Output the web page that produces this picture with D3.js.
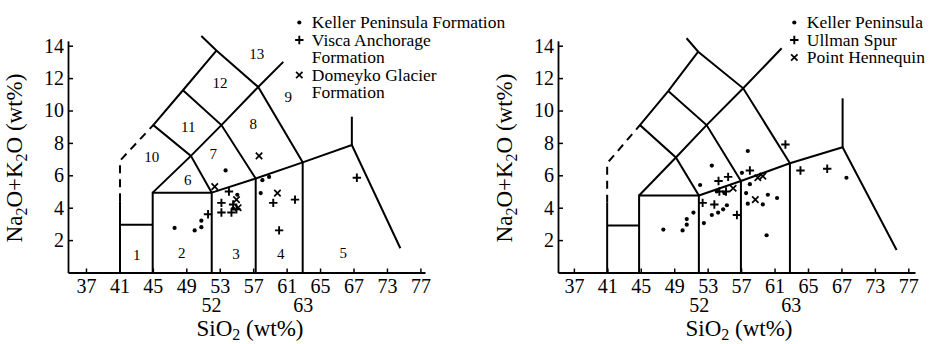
<!DOCTYPE html>
<html><head><meta charset="utf-8">
<script src="https://cdn.jsdelivr.net/npm/d3@7"></script>
<style>
body{margin:0;background:#fff}
svg{display:block}
text{font-family:"Liberation Serif","Times New Roman",serif;fill:#000}
</style>
</head><body>
<svg id="c" width="929" height="344"></svg>
<script>
// ---------- data ----------
const xTicks = [37,41,45,49,53,57,61,65,69,73,77];
const xTickLabels = ["37","41","45","49","53","57","61","65","67","73","77"];
const xExtraTicks = [52,63];
const yTicks = [2,4,6,8,10,12,14];

// left panel samples
const kellerFm = [[53.7,6.3],[47.6,2.75],[50.0,2.6],[50.8,2.8],[50.8,3.2],[55.1,4.8],[58.1,5.7],[58.9,5.9],[57.9,4.9],[54.6,3.95]];
const viscaAnchorage = [[51.6,3.6],[54.1,5.0],[53.2,4.3],[53.2,3.7],[54.4,3.7],[55.0,3.9],[54.6,4.2],[59.4,4.3],[62.0,4.5],[60.1,2.6],[69.4,5.85]];
const domeykoGlacier = [[57.7,7.2],[52.4,5.3],[59.9,4.9],[55.0,4.5],[55.2,4.0]];

// right panel samples
const kellerPeninsula = [[57.8,7.5],[53.5,6.6],[52.1,5.4],[57.1,6.15],[58.05,5.45],[57.6,4.9],[57.8,4.25],[59.6,4.2],[60.2,4.8],[61.3,4.6],[60.05,2.3],[50.5,3.3],[50.5,2.95],[50.0,2.6],[47.7,2.65],[51.3,3.7],[52.55,3.05],[53.5,3.55],[54.25,3.7],[54.85,3.9],[55.3,4.15],[54.1,5.0],[55.0,4.9],[69.6,5.85]];
const ullmanSpur = [[62.3,7.9],[58.05,6.3],[54.3,5.65],[55.45,5.9],[54.4,5.0],[55.2,5.0],[52.4,4.3],[53.8,4.2],[56.5,3.55],[64.1,6.3],[67.3,6.4]];
const pointHennequin = [[56.05,5.2],[58.7,4.5],[59.0,5.85],[59.6,5.95]];

// TAS field boundaries (SiO2, Na2O+K2O) as drawn in each panel
const leftBoundaries = [
  [[41.07,0],[41.07,4.4]],
  [[41.07,2.95],[44.98,2.95]],
  [[44.98,0],[44.98,4.93],[52.04,4.93],[52.04,0]],
  [[52.04,4.93],[57.3,5.8],[62.92,6.8],[68.8,7.87],[74.6,1.5]],
  [[57.3,0],[57.3,5.8]],
  [[62.92,0],[62.92,6.8]],
  [[68.8,7.87],[68.8,9.62]],
  [[44.98,4.93],[49.55,7.2],[53.2,9.1],[57.6,11.45],[60.6,13.0]],
  [[52.04,4.93],[49.55,7.2],[45.05,9.1],[48.6,11.25],[52.6,13.7]],
  [[57.3,5.8],[53.2,9.1],[48.6,11.25]],
  [[62.92,6.8],[57.6,11.45],[52.6,13.7],[50.8,14.6]]
];
const leftDashed = [[41.07,4.4],[41.07,6.9],[45.05,9.1]];

const rightBoundaries = [
  [[40.98,0],[40.98,4.3]],
  [[40.98,2.9],[44.8,2.9]],
  [[44.8,0],[44.8,4.75],[51.95,4.75],[51.95,0]],
  [[51.95,4.75],[56.98,5.65],[62.84,6.74],[69.14,7.73],[75.6,1.39]],
  [[56.98,0],[56.98,5.65]],
  [[62.84,0],[62.84,6.74]],
  [[69.14,7.73],[69.14,10.75]],
  [[44.8,4.75],[49.2,7.1],[52.87,9.1],[57.25,11.37],[61.85,13.84]],
  [[51.95,4.75],[49.2,7.1],[44.9,9.1],[48.28,11.2],[51.87,13.63]],
  [[56.98,5.65],[52.87,9.1],[48.28,11.2]],
  [[62.84,6.74],[57.25,11.37],[51.87,13.63],[50.48,14.46]]
];
const rightDashed = [[40.98,4.3],[40.98,6.74],[44.9,9.1]];

// field numbers (left panel)
const fieldNames = ["1","2","3","4","5","6","7","8","9","10","11","12","13"];
const fieldPos = [[43.06,1.1],[48.45,1.2],[54.94,1.15],[60.3,1.15],[67.77,1.2],[49.17,5.72],[52.23,7.36],[57.0,9.18],[61.2,10.86],[44.86,7.16],[49.24,9.0],[53.03,11.7],[57.42,13.5]];

const leftLegend = [["Keller Peninsula Formation"],["Visca Anchorage","Formation"],["Domeyko Glacier","Formation"]];
const rightLegend = [["Keller Peninsula"],["Ullman Spur"],["Point Hennequin"]];

// ---------- drawing ----------
const svg = d3.select("#c");
const FONT = '"Liberation Serif","Times New Roman",serif';

function symPath(type, cx, cy){
  if(type==="plus"){ const s=4.2; return `M${cx-s},${cy}H${cx+s}M${cx},${cy-s}V${cy+s}`; }
  const s=3.2; return `M${cx-s},${cy-s}L${cx+s},${cy+s}M${cx-s},${cy+s}L${cx+s},${cy-s}`;
}
function drawSymbol(g, type, cx, cy){
  if(type==="dot"){
    g.append("circle").attr("cx",cx).attr("cy",cy).attr("r",2.1).attr("fill","#000");
  } else {
    g.append("path").attr("d",symPath(type,cx,cy)).attr("stroke","#000")
      .attr("stroke-width",type==="plus"?1.9:1.7).attr("fill","none");
  }
}

function panel(cfg){
  const x = d3.scaleLinear().domain(cfg.xDomain).range(cfg.xRange);
  const y = d3.scaleLinear().domain([0,14.3]).range([272.5, 272.5-14.3*16.2]);
  const g = svg.append("g");
  const line = d3.line().x(d=>x(d[0])).y(d=>y(d[1]));

  // boundaries
  g.selectAll(null).data(cfg.bounds).join("path")
    .attr("d",line).attr("fill","none").attr("stroke","#000")
    .attr("stroke-width",2).attr("stroke-linejoin","miter");
  g.append("path").attr("d",line(cfg.dashed)).attr("fill","none")
    .attr("stroke","#000").attr("stroke-width",2).attr("stroke-dasharray","8,6");

  // axes
  const xa = g.append("g").attr("transform",`translate(0,${y(0)})`)
    .call(d3.axisBottom(x).tickValues(xTicks).tickFormat((d,i)=>xTickLabels[i])
      .tickSizeInner(-4).tickSizeOuter(0).tickPadding(6));
  const ya = g.append("g").attr("transform",`translate(${x(cfg.xDomain[0])},0)`)
    .call(d3.axisLeft(y).tickValues(yTicks).tickSizeInner(-5).tickSizeOuter(0).tickPadding(4));
  [xa,ya].forEach(a=>{
    a.attr("font-family",FONT).attr("font-size",20);
    a.select(".domain").attr("stroke-width",1.8);
    a.selectAll(".tick line").attr("stroke-width",1.5);
    a.selectAll(".tick text").attr("fill","#000");
  });
  g.selectAll(null).data(xExtraTicks).join("text")
    .attr("x",d=>x(d)).attr("y",312).attr("text-anchor","middle")
    .attr("font-size",20).text(d=>d);

  // axis titles
  const xt = g.append("text").attr("x",cfg.xTitleX).attr("y",335.5)
    .attr("text-anchor","middle").attr("font-size",23);
  xt.append("tspan").text("SiO");
  xt.append("tspan").attr("dy",4).attr("font-size",16).text("2");
  xt.append("tspan").attr("dy",-4).text(" (wt%)");

  const yt = g.append("text").attr("transform",`translate(${cfg.yTitleX},158) rotate(-90)`)
    .attr("text-anchor","middle").attr("font-size",23);
  yt.append("tspan").text("Na");
  yt.append("tspan").attr("dy",5).attr("font-size",16).text("2");
  yt.append("tspan").attr("dy",-5).text("O+K");
  yt.append("tspan").attr("dy",5).attr("font-size",16).text("2");
  yt.append("tspan").attr("dy",-5).text("O (wt%)");

  // field numbers
  if(cfg.fields){
    g.selectAll(null).data(fieldNames).join("text")
      .attr("x",(d,i)=>x(fieldPos[i][0])).attr("y",(d,i)=>y(fieldPos[i][1]))
      .attr("dy","0.35em").attr("text-anchor","middle").attr("font-size",15).text(d=>d);
  }

  // points
  cfg.series.forEach(s=>{
    s.data.forEach(p=>drawSymbol(g, s.type, x(p[0]), y(p[1])));
  });

  // legend
  let row = 0;
  cfg.legend.forEach((lines,i)=>{
    const type = cfg.series[i].type;
    const cy = cfg.legY + row*cfg.legStep;
    drawSymbol(g, type, cfg.legX, cy + 0.5);
    lines.forEach((t,k)=>{
      g.append("text").attr("x",cfg.legX+12.5).attr("y",cy + k*cfg.legStep + 6)
        .attr("font-size",17.5).text(t);
    });
    row += lines.length;
  });
}

panel({
  xDomain:[34.85,77.55], xRange:[68,425],
  bounds:leftBoundaries, dashed:leftDashed,
  xTitleX:250, yTitleX:22, fields:true,
  series:[{type:"dot",data:kellerFm},{type:"plus",data:viscaAnchorage},{type:"times",data:domeykoGlacier}],
  legend:leftLegend, legX:299.3, legY:22, legStep:17.5
});
panel({
  xDomain:[35.1,77.8], xRange:[558,915],
  bounds:rightBoundaries, dashed:rightDashed,
  xTitleX:739, yTitleX:512, fields:false,
  series:[{type:"dot",data:kellerPeninsula},{type:"plus",data:ullmanSpur},{type:"times",data:pointHennequin}],
  legend:rightLegend, legX:794.3, legY:22, legStep:17.5
});
</script>
</body></html>
